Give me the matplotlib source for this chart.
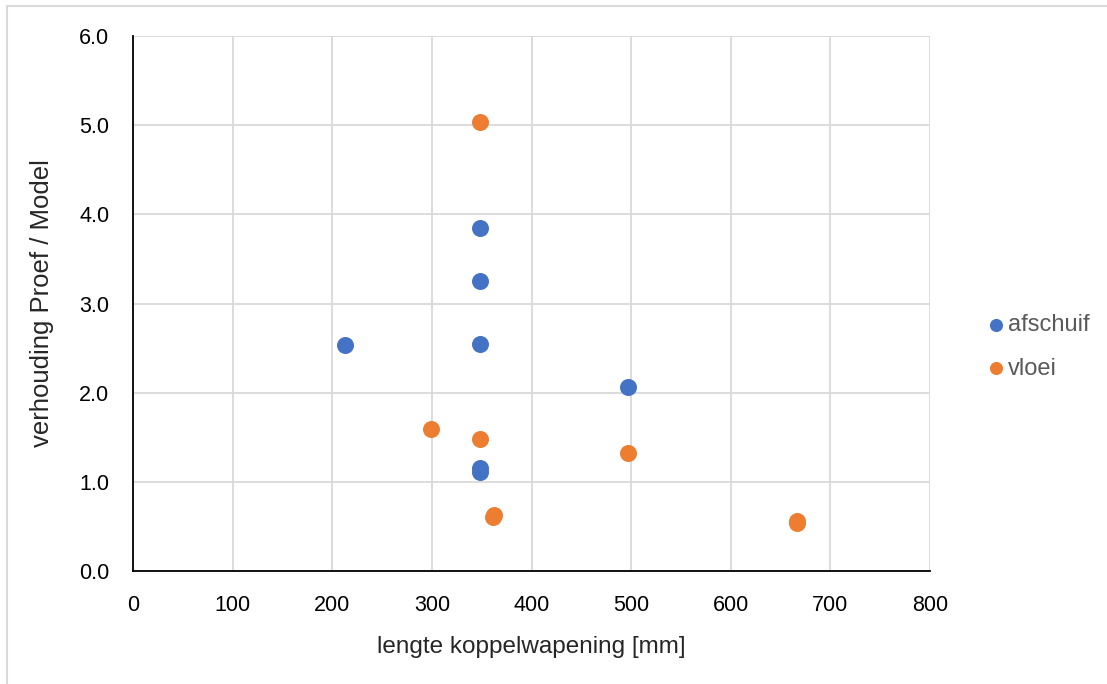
import numpy as np
import matplotlib.pyplot as plt
from matplotlib.patches import Rectangle

plt.rcParams['font.family'] = ['Liberation Sans', 'DejaVu Sans']

# afschuif
afschuif_x = [213, 348, 348, 348, 497, 348, 348]
afschuif_y = [2.53, 3.85, 3.25, 2.55, 2.06, 1.16, 1.11]
# vloei
vloei_x = [348, 299, 348, 497, 362, 361, 667, 667]
vloei_y = [5.04, 1.59, 1.48, 1.32, 0.63, 0.61, 0.56, 0.54]

fig = plt.figure(figsize=(11.07, 6.84), dpi=100)
ax = fig.add_axes([133/1107, 1 - 571/684, 797/1107, 535/684])

ax.scatter(afschuif_x, afschuif_y, s=150, color='#4472C4', label='afschuif', zorder=3, linewidths=0)
ax.scatter(vloei_x, vloei_y, s=150, color='#ED7D31', label='vloei', zorder=3, linewidths=0)

ax.set_xlim(0, 800)
ax.set_ylim(0, 6)
ax.set_xticks(np.arange(0, 801, 100))
ax.set_yticks(np.arange(0, 6.1, 1.0))
ax.set_yticklabels([f'{v:.1f}' for v in np.arange(0, 6.1, 1.0)])
ax.grid(True, color='#D9D9D9', linewidth=1.3, zorder=0)
ax.set_axisbelow(True)
ax.tick_params(length=0, labelsize=15.5)
ax.tick_params(axis='x', pad=17)
ax.tick_params(axis='y', pad=17)
for s in ['top', 'right']:
    ax.spines[s].set_visible(False)
for s in ['left', 'bottom']:
    ax.spines[s].set_color('black')
    ax.spines[s].set_linewidth(1.3)

ax.set_xlabel('lengte koppelwapening [mm]', fontsize=17.5, color='#262626', labelpad=15)
ax.set_ylabel('verhouding Proef / Model', fontsize=18.5, color='#262626', labelpad=18)

ax.legend(loc='center left', bbox_to_anchor=(989/1107, 1 - 347/684), bbox_transform=fig.transFigure,
          frameon=False, fontsize=17, borderaxespad=0, borderpad=0, handlelength=0.6,
          handletextpad=0.2, labelspacing=0.9, markerscale=0.77, labelcolor='#595959')

# chart border
fig.patches.append(Rectangle((7/1107, -0.01), 1.1, 1 - 6/684 + 0.01, transform=fig.transFigure,
                             fill=False, edgecolor='#D9D9D9', linewidth=1.5))

fig.savefig('out.png', dpi=100)
